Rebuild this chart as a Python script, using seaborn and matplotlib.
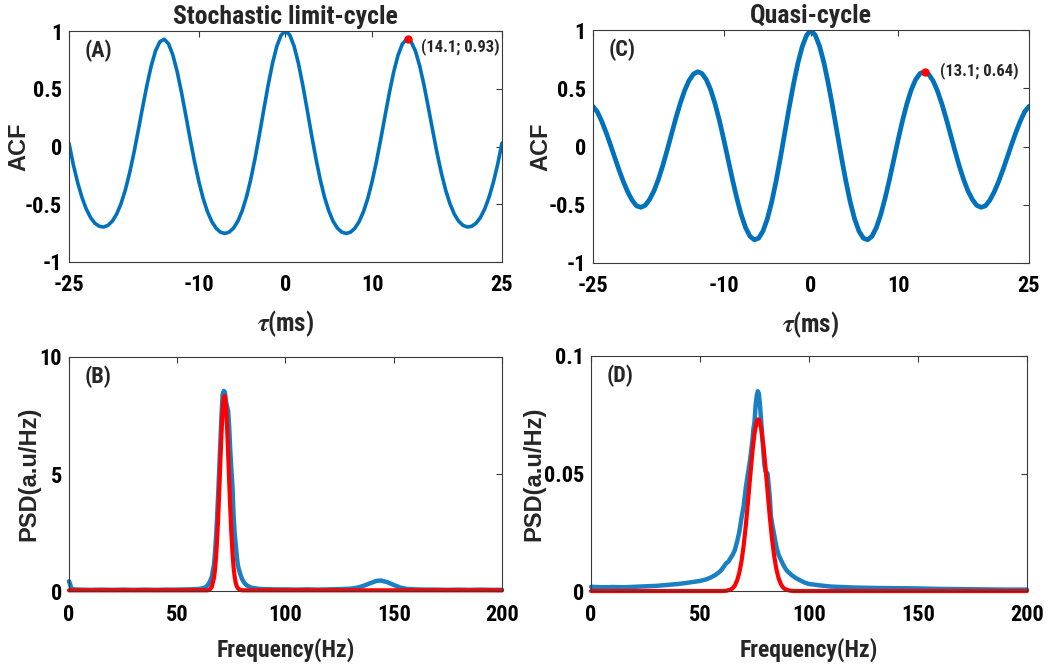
import os
import numpy as np
import pandas as pd
import matplotlib
matplotlib.use("Agg")
import matplotlib.pyplot as plt
from matplotlib import font_manager as fm
import seaborn as sns

# ---------------- data ----------------
# autocorrelation at non-negative lags (ms); ACF is even, so negative lags mirror these
lag_half = np.arange(0, 25.01, 0.5)
acf_limit_half = [1.000, 0.965, 0.868, 0.719, 0.531, 0.321, 0.106, -0.098, -0.282, -0.436,
                  -0.557, -0.647, -0.707, -0.741, -0.753, -0.742, -0.709, -0.651, -0.566, -0.451,
                  -0.305, -0.132, 0.062, 0.266, 0.466, 0.646, 0.791, 0.889, 0.929, 0.908,
                  0.829, 0.699, 0.530, 0.338, 0.139, -0.055, -0.229, -0.378, -0.497, -0.586,
                  -0.647, -0.683, -0.697, -0.691, -0.665, -0.616, -0.542, -0.441, -0.312, -0.156,
                  0.030]
acf_quasi_half = [1.000, 0.955, 0.858, 0.715, 0.536, 0.334, 0.119, -0.096, -0.297, -0.476,
                  -0.621, -0.726, -0.787, -0.801, -0.770, -0.696, -0.585, -0.444, -0.284, -0.112,
                  0.060, 0.223, 0.367, 0.487, 0.574, 0.627, 0.642, 0.620, 0.564, 0.478,
                  0.368, 0.241, 0.104, -0.034, -0.166, -0.283, -0.381, -0.454, -0.505, -0.522,
                  -0.510, -0.462, -0.392, -0.304, -0.203, -0.094, 0.016, 0.122, 0.218, 0.298,
                  0.345]
peak_limit = (14.1, 0.93)
peak_quasi = (13.1, 0.64)

# power spectral density, stochastic limit-cycle
freq_b = [0, 0.5, 1, 2, 5, 10, 15, 20, 25, 30, 35, 40, 45, 50, 55,
          58, 60, 62, 63, 64, 65, 66, 67,
          67.5, 68, 68.5, 69, 69.5, 70, 70.5, 71, 71.5, 72, 72.5, 73, 73.5, 74, 74.5,
          75, 75.5, 76, 76.5, 77, 77.5, 78,
          79, 80, 81, 82, 84, 87, 90,
          95, 100, 105, 110, 115, 120, 125, 130,
          133, 136, 139, 142, 144, 147, 150, 153, 156,
          160, 165, 170, 175, 180, 185, 190, 195, 200]
psd_b = [0.42, 0.30, 0.12, 0.07, 0.06, 0.05, 0.06, 0.05, 0.06, 0.05, 0.06, 0.05, 0.06, 0.06, 0.07,
         0.08, 0.09, 0.12, 0.16, 0.24, 0.38, 0.62, 1.15,
         1.7, 2.4, 3.3, 4.3, 5.4, 6.5, 7.6, 8.4, 8.55, 8.5, 8.1, 7.9, 7.7, 7.0, 6.0,
         5.2, 4.5, 3.3, 2.5, 2.0, 1.5, 1.1,
         0.75, 0.5, 0.35, 0.25, 0.15, 0.10, 0.08,
         0.07, 0.07, 0.06, 0.07, 0.06, 0.07, 0.08, 0.10,
         0.14, 0.22, 0.33, 0.43, 0.45, 0.38, 0.26, 0.15, 0.09,
         0.07, 0.06, 0.06, 0.05, 0.06, 0.05, 0.06, 0.05, 0.05]
fit_freq_b = [0, 64, 65, 66, 67,
              67.5, 68, 68.5, 69, 69.5, 70, 70.5, 71, 71.5, 72, 72.5,
              73, 73.5, 74, 74.5, 75, 75.5, 76, 76.5, 77, 77.5, 78,
              79, 80, 200]
fit_b = [0.03, 0.03, 0.06, 0.18, 0.57,
         0.95, 1.53, 2.32, 3.31, 4.48, 5.71, 6.86, 7.77, 8.29, 8.34, 7.91,
         7.06, 5.95, 4.72, 3.54, 2.50, 1.67, 1.05, 0.63, 0.36, 0.20, 0.12,
         0.05, 0.03, 0.03]

# power spectral density, quasi-cycle
freq_d = [0, 5, 10, 15, 20, 25, 30, 35, 40, 45, 50, 53, 55, 57, 59,
          60, 61, 62, 63, 64, 65, 66, 67, 68, 69, 70, 71, 72, 73, 74,
          74.5, 75, 75.5, 76, 76.5, 77, 77.5, 78, 78.5, 79, 79.5, 80,
          81, 82, 82.5, 83, 84, 85, 86, 87, 88, 89, 90,
          92, 94, 96, 98, 100, 105, 110,
          120, 130, 140, 150, 160, 170, 180, 190, 200]
psd_d = [0.0018, 0.0016, 0.0017, 0.0016, 0.0018, 0.0020, 0.0022, 0.0026, 0.0030, 0.0036, 0.0043,
         0.0050, 0.0058, 0.0068, 0.0082,
         0.0092, 0.0105, 0.0118, 0.0125, 0.0140, 0.0155, 0.0175, 0.0210, 0.0250, 0.0310, 0.0360,
         0.0440, 0.0500, 0.0560, 0.0640,
         0.0690, 0.0720, 0.0790, 0.0830, 0.0850, 0.0840, 0.0790, 0.0730, 0.0660, 0.0600, 0.0540, 0.0510,
         0.0500, 0.0400, 0.0320, 0.0290, 0.0240, 0.0190, 0.0155, 0.0135, 0.0115, 0.0098, 0.0085,
         0.0068, 0.0055, 0.0045, 0.0036, 0.0030, 0.0024, 0.0019,
         0.0015, 0.0013, 0.0012, 0.0011, 0.0009, 0.0008, 0.0007, 0.0006, 0.0006]
fit_freq_d = [0, 60, 62, 64, 65, 66, 67, 68, 69, 70, 71, 72, 73, 74, 75, 76, 76.5, 77,
              78, 79, 80, 81, 82, 83, 84, 85, 86, 87, 88, 89, 91, 93, 200]
fit_d = [0.0, 0.0, 0.0001, 0.0006, 0.0012, 0.0024, 0.0045, 0.0077, 0.0125, 0.0192, 0.0278,
         0.0379, 0.0486, 0.0589, 0.0671, 0.0720, 0.0730, 0.0729,
         0.0695, 0.0625, 0.0529, 0.0422, 0.0317, 0.0224, 0.0150, 0.0094, 0.0056, 0.0031,
         0.0016, 0.0008, 0.0002, 0.0, 0.0]

lag_ticks = [-25, -10, 0, 10, 25]
acf_ticks = [-1, -0.5, 0, 0.5, 1]
acf_tick_labels = ["-1", "-0.5", "0", "0.5", "1"]
freq_ticks = [0, 50, 100, 150, 200]
psd_b_ticks = [0, 5, 10]
psd_d_ticks = [0, 0.05, 0.1]
psd_d_tick_labels = ["0", "0.05", "0.1"]

# ---------------- style ----------------
sns.set_theme(style="white")
plt.rcParams["font.family"] = ["Liberation Sans", "DejaVu Sans"]
plt.rcParams["font.weight"] = "bold"
plt.rcParams["axes.unicode_minus"] = False
plt.rcParams["mathtext.fontset"] = "stix"


def _is_bold(w):
    if isinstance(w, (int, float)):
        return w >= 600
    return str(w).lower() in ("bold", "heavy", "extra bold", "demibold", "semibold", "black")


def condensed_bold_path():
    """Pick a narrow bold sans face for horizontal text, if one is installed."""
    prefs = ["liberation sans narrow", "arial narrow", "roboto condensed",
             "noto sans condensed", "open sans condensed", "dejavu sans condensed",
             "noto sans semicondensed", "dejavu sans"]
    found = {}
    for f in fm.fontManager.ttflist:
        if f.style != "normal" or not _is_bold(f.weight):
            continue
        base = os.path.basename(f.fname).lower().replace("-", " ").replace("_", " ")
        key = (f.name + " " + base).lower()
        st = f.stretch
        cond = ("narrow" in key or "condensed" in key
                or (isinstance(st, str) and "condensed" in st)
                or (isinstance(st, (int, float)) and st < 500))
        if not cond or "extra" in key or "ultra" in key:
            continue
        semi = "semi" in key or "semicondensed" in key
        for i, p in enumerate(prefs):
            tokens = p.split()
            if all(t in key for t in tokens[:2]):
                if p.endswith("condensed") and "semi" not in p and semi:
                    continue
                found.setdefault(i, f.fname)
                break
    if found:
        return found[min(found)]
    return None


_cpath = condensed_bold_path()


def cfont(size):
    if _cpath:
        return fm.FontProperties(fname=_cpath, size=size)
    return fm.FontProperties(family="Liberation Sans", weight="bold", size=size * 0.9)


BLUE = "#0072BD"
RED = "#FF0000"
SPINE = "#3a3a3a"
TICK_FS = 16
LABEL_FS = 17

fig = plt.figure(figsize=(10.53, 6.67), dpi=100)
ax_a = fig.add_axes([0.0655, 0.6072, 0.4112, 0.3463])
ax_c = fig.add_axes([0.5631, 0.6057, 0.4141, 0.3493])
ax_b = fig.add_axes([0.0655, 0.1139, 0.4112, 0.3509])
ax_d = fig.add_axes([0.5613, 0.1139, 0.4140, 0.3524])


def mirror(half_x, half_y):
    x = np.concatenate([-np.asarray(half_x)[:0:-1], np.asarray(half_x)])
    y = np.concatenate([np.asarray(half_y)[:0:-1], np.asarray(half_y)])
    return pd.DataFrame({"lag": x, "acf": y})


def style_axes(ax):
    ax.tick_params(direction="in", top=True, right=True, length=4.5, width=0.8,
                   colors=SPINE, labelcolor="black")
    ax.tick_params(axis="x", pad=9)
    ax.tick_params(axis="y", pad=5)
    for s in ax.spines.values():
        s.set_color(SPINE)
        s.set_linewidth(0.8)
        s.set_visible(True)
    for lab in ax.get_xticklabels() + ax.get_yticklabels():
        lab.set_fontproperties(cfont(TICK_FS))


# ---- ACF panels ----
for ax, half, peak, title, tag, lw, txt_off, lab_x in [
    (ax_a, acf_limit_half, peak_limit, "Stochastic limit-cycle", "(A)", 2.6, (10, -5), -0.09),
    (ax_c, acf_quasi_half, peak_quasi, "Quasi-cycle", "(C)", 3.4, (11, 1), -0.092),
]:
    df = mirror(lag_half, half)
    sns.lineplot(data=df, x="lag", y="acf", ax=ax, color=BLUE, linewidth=lw,
                 errorbar=None, sort=False)
    ax.plot([peak[0]], [peak[1]], "o", color=RED, markersize=5, zorder=5)
    ax.annotate(f"({peak[0]}; {peak[1]})", xy=peak, xytext=txt_off,
                textcoords="offset points", ha="left", va="center",
                fontproperties=cfont(12))
    ax.text(0.035, 0.965, tag, transform=ax.transAxes, ha="left", va="top",
            fontproperties=cfont(LABEL_FS - 1))
    ax.set_xlim(-25, 25)
    ax.set_ylim(-1, 1)
    ax.set_xticks(lag_ticks)
    ax.set_xticklabels([str(t) for t in lag_ticks])
    ax.set_yticks(acf_ticks)
    ax.set_yticklabels(acf_tick_labels)
    ax.set_title(title, fontproperties=cfont(LABEL_FS + 1.5), pad=5)
    ax.set_xlabel(r"$\tau$(ms)", fontproperties=cfont(LABEL_FS + 1))
    ax.set_ylabel("ACF", fontsize=LABEL_FS, fontweight="bold", family="Liberation Sans")
    ax.xaxis.set_label_coords(0.5, -0.2)
    ax.yaxis.set_label_coords(lab_x, 0.5)
    style_axes(ax)

# ---- PSD panels ----
for ax, fx, fy, gx, gy, tag, ylim, yt, ytl, lab_x in [
    (ax_b, freq_b, psd_b, fit_freq_b, fit_b, "(B)", (0, 10), psd_b_ticks,
     [str(t) for t in psd_b_ticks], -0.067),
    (ax_d, freq_d, psd_d, fit_freq_d, fit_d, "(D)", (0, 0.1), psd_d_ticks,
     psd_d_tick_labels, -0.104),
]:
    sns.lineplot(x=fx, y=fy, ax=ax, color=BLUE, linewidth=3.2, errorbar=None,
                 sort=False, alpha=0.9)
    sns.lineplot(x=gx, y=gy, ax=ax, color=RED, linewidth=3.0, errorbar=None,
                 sort=False)
    for ln in ax.lines:
        ln.set_clip_on(False)
    ax.text(0.035, 0.965, tag, transform=ax.transAxes, ha="left", va="top",
            fontproperties=cfont(LABEL_FS - 1))
    ax.set_xlim(0, 200)
    ax.set_ylim(*ylim)
    ax.set_xticks(freq_ticks)
    ax.set_xticklabels([str(t) for t in freq_ticks])
    ax.set_yticks(yt)
    ax.set_yticklabels(ytl)
    ax.set_xlabel("Frequency(Hz)", fontproperties=cfont(LABEL_FS))
    ax.set_ylabel("PSD(a.u/Hz)", fontsize=LABEL_FS, fontweight="bold", family="Liberation Sans")
    ax.xaxis.set_label_coords(0.5, -0.2)
    ax.yaxis.set_label_coords(lab_x, 0.5)
    style_axes(ax)

fig.savefig("out.png", dpi=100, facecolor="white")
